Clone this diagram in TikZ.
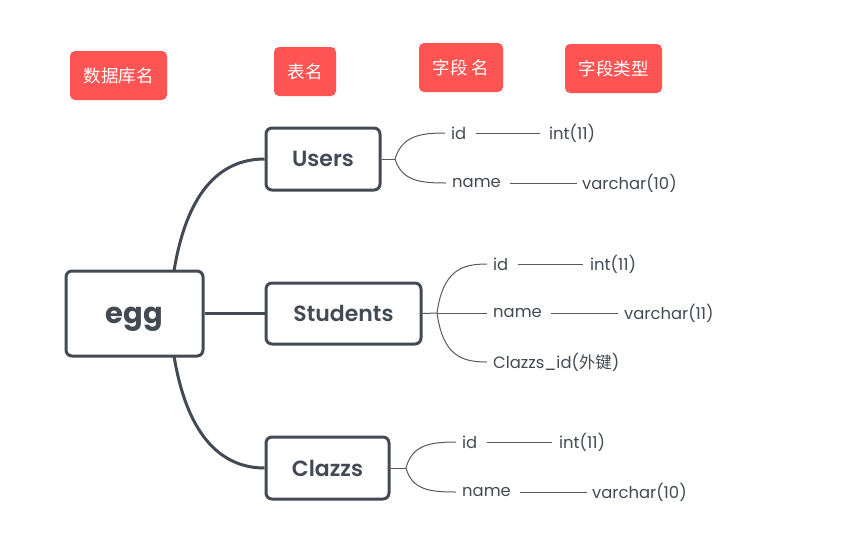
\documentclass[tikz,border=0pt]{standalone}
\usepackage{fontspec}
\setmainfont{Poppins}[BoldFont={Poppins SemiBold}]
\newfontfamily\heavy{Poppins Bold}
\newfontfamily\cjk{Noto Sans CJK SC}
\begin{document}
\begin{tikzpicture}[x=1pt,y=-1pt,
  tag/.style={fill=tagred,rounded corners=5pt,text=white,font=\cjk\fontsize{17.5}{17.5}\selectfont,minimum height=49pt,inner sep=0pt},
  tbl/.style={draw=dark,line width=3pt,rounded corners=6pt,fill=white,text=dark,font=\fontsize{22}{22}\selectfont\bfseries,inner sep=0pt},
  fld/.style={anchor=west,inner sep=0pt,text=dark,font=\fontsize{16.4}{16.4}\selectfont},
  link/.style={draw=dark,line width=3pt},
  thin/.style={draw=gline,line width=1pt},
]
\definecolor{tagred}{HTML}{FF5454}
\definecolor{dark}{HTML}{434A54}
\definecolor{gline}{HTML}{555A60}
\useasboundingbox (0,0) rectangle (861,539);
\fill[white] (0,0) rectangle (861,539);

% header tags
\node[tag,minimum width=97pt] (t1) at (118.5,75.5) {数据库名};
\node[tag,minimum width=62pt] (t2) at (305,71.5) {表名};
\node[tag,minimum width=84pt] (t3) at (461,67.5) {字段 名};
\node[tag,minimum width=97pt] (t4) at (613.5,68.5) {字段类型};

% main nodes
\node[tbl,minimum width=137pt,minimum height=85pt,text height=19pt,text depth=0pt,font=\heavy\fontsize{29}{29}\selectfont] (egg) at (134.5,313.5) {egg};
\node[tbl,minimum width=114pt,minimum height=62pt] (users) at (323,159) {Users};
\node[tbl,minimum width=155pt,minimum height=61pt] (students) at (343.5,313.5) {Students};
\node[tbl,minimum width=123pt,minimum height=62pt] (clazzs) at (327.5,468) {Clazzs};

% connectors from egg
\coordinate (eggtop) at (174,271);
\coordinate (eggbot) at (174,356);
\draw[link] (eggtop) .. controls (188,185) and (225,159) .. (users.west);
\draw[link] (eggbot) .. controls (188,441) and (225,468) .. (clazzs.west);
\draw[link] (egg.east) -- (students.west);

% Users fields
\node[fld] (uid) at (451,133) {id};
\node[fld] (uidt) at (549,133) {int(11)};
\node[fld] (uname) at (452,183) {name};
\node[fld] (unamet) at (582,183) {varchar(10)};
\coordinate (ub) at (395,159);
\draw[thin] (users.east) -- (ub);
\draw[thin] (ub) .. controls (402,136) and (420,133) .. ([xshift=-6pt]uid.west);
\draw[thin] (ub) .. controls (402,181) and (420,183) .. ([xshift=-6pt]uname.west);
\draw[thin] ([xshift=9pt]uid.east) -- ([xshift=-9pt]uidt.west);
\draw[thin] ([xshift=9pt]uname.east) -- ([xshift=-5pt]unamet.west);

% Students fields
\node[fld] (sid) at (493,264) {id};
\node[fld] (sidt) at (590,264) {int(11)};
\node[fld] (sname) at (493,313) {name};
\node[fld] (snamet) at (624,313) {varchar(11)};
\node[fld] (sfk) at (493,362) {Clazzs\_id(\cjk 外键\rmfamily)};
\coordinate (sb) at (437,313);
\draw[thin] (students.east) -- (sb);
\draw[thin] (sb) .. controls (443,270) and (462,264) .. ([xshift=-6pt]sid.west);
\draw[thin] (sb) -- ([xshift=-6pt]sname.west);
\draw[thin] (sb) .. controls (443,356) and (462,362) .. ([xshift=-6pt]sfk.west);
\draw[thin] ([xshift=9pt]sid.east) -- ([xshift=-7pt]sidt.west);
\draw[thin] ([xshift=9pt]sname.east) -- ([xshift=-6pt]snamet.west);

% Clazzs fields
\node[fld] (cid) at (462,442) {id};
\node[fld] (cidt) at (559,442) {int(11)};
\node[fld] (cname) at (462,492) {name};
\node[fld] (cnamet) at (592,492) {varchar(10)};
\coordinate (cb) at (406,468);
\draw[thin] (clazzs.east) -- (cb);
\draw[thin] (cb) .. controls (412,445) and (430,442) .. ([xshift=-6pt]cid.west);
\draw[thin] (cb) .. controls (412,490) and (430,492) .. ([xshift=-6pt]cname.west);
\draw[thin] ([xshift=9pt]cid.east) -- ([xshift=-7pt]cidt.west);
\draw[thin] ([xshift=9pt]cname.east) -- ([xshift=-5pt]cnamet.west);
\end{tikzpicture}
\end{document}
